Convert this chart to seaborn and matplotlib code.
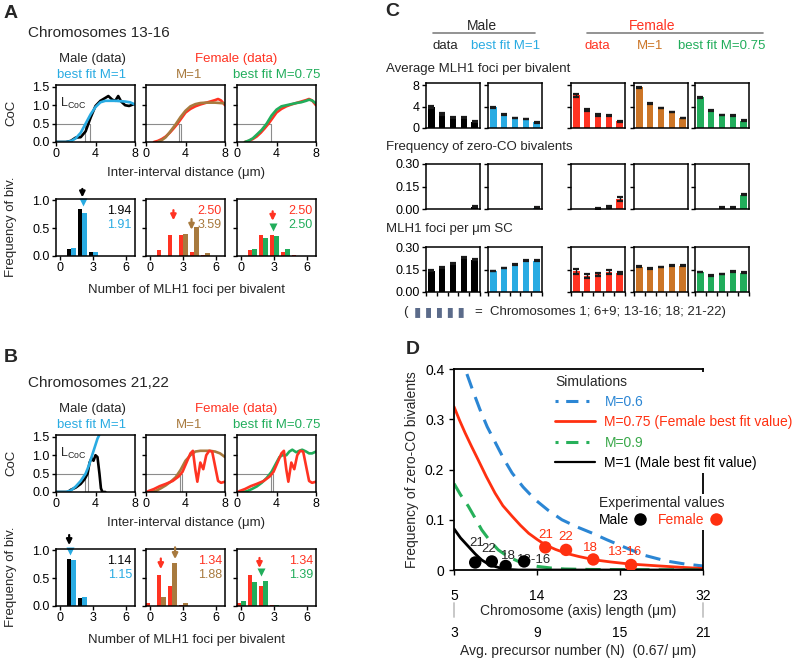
import numpy as np
import pandas as pd
import matplotlib
matplotlib.use("Agg")
import matplotlib.pyplot as plt
from matplotlib.lines import Line2D
import seaborn as sns

# ============================================================
# DATA
# ============================================================

# --- CoC curves, chromosomes 13-16 (x = inter-interval distance, um) ---
a_male_x = [0, 1.0, 1.5, 2.0, 2.5, 3.0, 3.5, 4.0, 4.5, 5.0, 5.3, 5.7, 6.0, 6.3, 6.6, 7.0, 7.4, 7.8, 8.0]
a_male_y = [0, 0, 0.03, 0.12, 0.13, 0.29, 0.66, 0.98, 1.12, 1.2, 1.25, 1.15, 1.12, 1.25, 1.1, 1.0, 0.98, 1.02, 1.03]
a_male_fit_x = [0, 1.0, 1.5, 2.0, 2.5, 3.0, 3.5, 4.0, 4.5, 5.0, 6.0, 7.0, 7.5, 8.0]
a_male_fit_y = [0, 0, 0.02, 0.1, 0.25, 0.5, 0.75, 0.95, 1.08, 1.12, 1.12, 1.1, 1.08, 1.02]
a_fem_x = [0.8, 1.2, 1.6, 2.0, 2.4, 2.8, 3.2, 3.6, 4.0, 4.5, 5.0, 5.5, 6.0, 6.5, 7.0, 7.3, 7.6, 8.0]
a_fem_y = [0, 0.03, 0.08, 0.15, 0.25, 0.37, 0.5, 0.65, 0.8, 0.9, 0.97, 1.02, 1.06, 1.1, 1.14, 1.17, 1.13, 1.0]
a_fem_m1_x = [1.2, 1.6, 2.0, 2.5, 3.0, 3.5, 4.0, 4.5, 5.0, 5.5, 6.0, 6.5, 7.0, 7.5, 8.0]
a_fem_m1_y = [0, 0.05, 0.13, 0.3, 0.48, 0.68, 0.85, 0.97, 1.03, 1.06, 1.07, 1.07, 1.07, 1.06, 1.05]
a_fem_fit_x = [0.8, 1.2, 1.6, 2.0, 2.5, 3.0, 3.5, 4.0, 4.5, 5.0, 5.5, 6.0, 6.5, 7.0, 7.3, 7.6, 8.0]
a_fem_fit_y = [0, 0.04, 0.1, 0.2, 0.33, 0.5, 0.72, 0.88, 0.97, 1.0, 1.03, 1.06, 1.08, 1.12, 1.15, 1.13, 1.05]
a_lcoc = [[2.95, 3.45], [3.35, 3.55], [3.45]]

# --- CoC curves, chromosomes 21,22 ---
b_male_x = [0, 1.2, 1.5, 2.0, 2.5, 2.9, 3.2, 3.4, 3.6, 3.8, 4.0, 4.2, 4.4, 4.55, 4.7, 5.0]
b_male_y = [0, 0, 0.06, 0.12, 0.22, 0.35, 0.5, 0.8, 0.92, 0.85, 1.0, 0.95, 0.5, 0.1, 0, 0]
b_male_fit_x = [0, 1.0, 1.5, 2.0, 2.5, 3.0, 3.3, 3.6, 3.9, 4.2, 4.4]
b_male_fit_y = [0, 0, 0.04, 0.15, 0.3, 0.5, 0.7, 0.95, 1.2, 1.45, 1.56]
b_fem_x = [0.2, 0.8, 1.4, 2.0, 2.7, 3.3, 3.7, 4.1, 4.5, 4.75, 5.0, 5.2, 5.5, 5.8, 6.1, 6.4, 6.7, 7.0, 7.3, 7.6, 8.0]
b_fem_y = [0.02, 0.08, 0.16, 0.22, 0.3, 0.42, 0.55, 0.8, 1.05, 1.12, 0.6, 0.28, 0.8, 0.62, 1.0, 1.12, 1.1, 0.7, 0.3, 0.25, 0.28]
b_fem_m1_x = [0.5, 1.0, 1.5, 2.0, 2.5, 3.0, 3.5, 4.0, 4.5, 5.0, 5.5, 6.0, 6.5, 7.0, 7.5, 8.0]
b_fem_m1_y = [0, 0.03, 0.1, 0.18, 0.28, 0.4, 0.6, 0.85, 1.0, 1.1, 1.12, 1.12, 1.12, 1.1, 1.05, 0.95]
b_fem_fit_x = [0.5, 1.0, 1.5, 2.0, 2.5, 3.0, 3.5, 4.0, 4.3, 4.6, 5.0, 5.3, 5.6, 6.0, 6.3, 6.6, 7.0, 7.3, 7.6, 8.0]
b_fem_fit_y = [0, 0.02, 0.08, 0.15, 0.25, 0.38, 0.55, 0.8, 0.95, 1.0, 1.0, 1.1, 1.15, 1.08, 1.12, 1.15, 1.1, 1.05, 1.05, 1.1]
b_lcoc = [[2.95, 3.25], [3.45, 3.65], [3.45, 3.6]]

# --- distributions of MLH1 foci per bivalent ---
foci_n = [0, 1, 2, 3, 4, 5, 6]
a_hist_male = [0, 0.12, 0.84, 0.07, 0, 0, 0]
a_hist_male_fit = [0, 0.14, 0.77, 0.065, 0, 0, 0]
a_hist_fem = [0, 0.11, 0.37, 0.37, 0.08, 0.01, 0]
a_hist_fem_m1 = [0, 0, 0, 0.39, 0.51, 0.05, 0]
a_hist_fem_fit = [0, 0.13, 0.33, 0.36, 0.13, 0, 0]
b_hist_male = [0, 0.84, 0.15, 0, 0, 0, 0]
b_hist_male_fit = [0, 0.83, 0.16, 0, 0, 0, 0]
b_hist_fem = [0.06, 0.56, 0.35, 0.01, 0, 0, 0]
b_hist_fem_m1 = [0, 0.16, 0.77, 0.05, 0, 0, 0]
b_hist_fem_fit = [0.09, 0.43, 0.45, 0.01, 0, 0, 0]

# mean values printed in each histogram, and where the mean marks sit
a_means = [("1.94", "1.91"), ("2.50", "3.59"), ("2.50", "2.50")]
b_means = [("1.14", "1.15"), ("1.34", "1.88"), ("1.34", "1.39")]
# (x, y start, y end, kind)
a_marks = [[(2.0, 1.2, 1.05, "arrow"), (2.1, 0.97, 0, "tri")],
           [(2.1, 0.82, 0.64, "arrow"), (3.75, 0.66, 0.47, "arrow")],
           [(2.85, 0.8, 0.63, "arrow"), (2.85, 0.52, 0, "tri")]]
b_marks = [[(0.8, 1.27, 1.09, "arrow"), (0.85, 0.98, 0, "tri")],
           [(0.95, 0.85, 0.66, "arrow"), (2.25, 1.05, 0.84, "arrow")],
           [(1.65, 0.86, 0.68, "arrow"), (1.75, 0.6, 0, "tri")]]

# --- panel C: per-chromosome summaries (1; 6+9; 13-16; 18; 21-22) ---
chromosomes = ["1", "6+9", "13-16", "18", "21-22"]
avg_foci = {
    "male": [3.9, 2.6, 2.0, 1.9, 1.2],
    "male_fit": [3.85, 2.55, 1.9, 1.7, 1.05],
    "fem": [6.1, 3.3, 2.45, 2.3, 1.3],
    "fem_m1": [7.6, 4.6, 3.7, 2.95, 1.9],
    "fem_fit": [5.75, 3.3, 2.45, 2.3, 1.4],
}
avg_foci_err = {
    "male": [0.2, 0.15, 0.1, 0.1, 0.08],
    "male_fit": [0.08, 0.06, 0.05, 0.05, 0.04],
    "fem": [0.25, 0.2, 0.12, 0.12, 0.1],
    "fem_m1": [0.08, 0.06, 0.05, 0.05, 0.04],
    "fem_fit": [0.08, 0.06, 0.05, 0.05, 0.04],
}
zero_co = {
    "male": [0, 0, 0, 0, 0.015],
    "male_fit": [0, 0, 0, 0, 0.01],
    "fem": [0, 0, 0.004, 0.012, 0.065],
    "fem_m1": [0, 0, 0, 0, 0],
    "fem_fit": [0, 0, 0.012, 0.012, 0.095],
}
zero_co_err = {
    "male": [0, 0, 0, 0, 0.002],
    "male_fit": [0, 0, 0, 0, 0.002],
    "fem": [0, 0, 0.002, 0.008, 0.014],
    "fem_m1": [0, 0, 0, 0, 0],
    "fem_fit": [0, 0, 0.002, 0.002, 0.003],
}
foci_per_um = {
    "male": [0.142, 0.165, 0.19, 0.228, 0.215],
    "male_fit": [0.14, 0.16, 0.185, 0.21, 0.21],
    "fem": [0.138, 0.108, 0.118, 0.135, 0.125],
    "fem_m1": [0.17, 0.155, 0.168, 0.175, 0.175],
    "fem_fit": [0.133, 0.11, 0.12, 0.138, 0.13],
}
foci_per_um_err = {
    "male": [0.003, 0.003, 0.003, 0.003, 0.003],
    "male_fit": [0.002, 0.002, 0.002, 0.002, 0.002],
    "fem": [0.015, 0.012, 0.008, 0.012, 0.008],
    "fem_m1": [0.002, 0.002, 0.002, 0.002, 0.002],
    "fem_fit": [0.002, 0.002, 0.002, 0.002, 0.002],
}

# --- panel D: zero-CO frequency vs chromosome length ---
sim_06_L = [6.4, 7.1, 7.8, 8.6, 9.5, 10.4, 11.3, 12.5, 13.8, 15.2, 16.7, 18.3, 19.9, 21.6, 23.4, 25.5, 28, 30, 32]
sim_06_f = [0.39, 0.354, 0.32, 0.285, 0.253, 0.221, 0.193, 0.165, 0.14, 0.119, 0.10, 0.086, 0.074,
            0.06, 0.046, 0.03, 0.018, 0.012, 0.008]
sim_075_L = [5, 5.6, 6.2, 6.9, 7.6, 8.5, 9.45, 10.3, 11.3, 12.2, 13.1, 14.0, 14.9, 16.0, 17.2, 18.5,
             20.3, 22, 24, 27.3, 30, 32]
sim_075_f = [0.325, 0.298, 0.273, 0.246, 0.22, 0.186, 0.153, 0.128, 0.107, 0.089, 0.073, 0.061,
             0.05, 0.041, 0.033, 0.027, 0.02, 0.016, 0.012, 0.008, 0.005, 0.003]
sim_09_L = [5, 5.7, 6.55, 7.3, 8.0, 8.9, 9.8, 10.9, 12, 13, 14.1, 15.5, 17, 20, 32]
sim_09_f = [0.172, 0.15, 0.127, 0.103, 0.08, 0.058, 0.04, 0.026, 0.017, 0.011, 0.007, 0.004, 0.002, 0.001, 0]
sim_1_L = [5, 5.7, 6.55, 7.3, 8.0, 8.7, 9.45, 10.2, 11, 12, 14, 32]
sim_1_f = [0.082, 0.064, 0.047, 0.032, 0.02, 0.012, 0.007, 0.003, 0.001, 0, 0, 0]

exp_labels = ["21", "22", "18", "13-16"]
exp_male_L = [7.3, 9.1, 10.6, 12.6]
exp_male_f = [0.015, 0.017, 0.008, 0.017]
exp_fem_L = [14.9, 17.15, 20.1, 24.2]
exp_fem_f = [0.045, 0.04, 0.021, 0.01]

# ============================================================
# STYLE
# ============================================================
sns.set_style("ticks")
plt.rcParams["font.family"] = ["Liberation Sans", "DejaVu Sans"]
plt.rcParams["axes.edgecolor"] = "black"
plt.rcParams["axes.linewidth"] = 1.1
plt.rcParams["xtick.color"] = "black"
plt.rcParams["ytick.color"] = "black"

BLACK = "black"
BLUE = "#29abe2"
RED = "#ff3322"
BROWN = "#a87a3e"
ORANGE = "#cc7526"
GREEN = "#21ad5b"
D_BLUE = "#2b86d4"
D_RED = "#ff3010"
D_GREEN = "#27b05a"
GUIDE = "#8c8c8c"

W, H = 800, 663
fig = plt.figure(figsize=(W / 100, H / 100), dpi=100)
fig.patch.set_facecolor("white")


def px_axes(left, top, width, height):
    return fig.add_axes([left / W, 1 - (top + height) / H, width / W, height / H])


def px_text(x, y, s, **kw):
    kw.setdefault("va", "center")
    fig.text(x / W, 1 - y / H, s, **kw)


def small_style(ax, labels_left, size=8.5):
    for sp in ax.spines.values():
        sp.set_visible(True)
        sp.set_linewidth(1.1)
    ax.tick_params(direction="out", length=3, width=1, labelsize=size, pad=1.5)
    ax.tick_params(labelleft=labels_left)
    ax.set_xlabel("")
    ax.set_ylabel("")


def coc_panel(ax, curves, guides, first):
    ax.plot([0, max(guides)], [0.5, 0.5], color=GUIDE, lw=0.8, zorder=0)
    for g in guides:
        ax.plot([g, g], [0, 0.5], color=GUIDE, lw=0.8, zorder=0)
    for x, y, c in curves:
        sns.lineplot(x=x, y=y, color=c, linewidth=1.9, ax=ax)
    ax.set_xlim(0, 8)
    ax.set_ylim(0, 1.55)
    ax.set_xticks([0, 4, 8])
    ax.set_yticks([0, 0.5, 1.0, 1.5])
    ax.set_yticklabels(["0.0", "0.5", "1.0", "1.5"])
    small_style(ax, first, size=9)
    if first:
        ax.text(0.45, 0.95, r"L$_{\mathregular{CoC}}$", fontsize=9)


def hist_panel(ax, first_vals, second_vals, colors, means, marks, first):
    df = pd.DataFrame({"n": foci_n * 2, "freq": first_vals + second_vals,
                       "series": ["obs"] * len(foci_n) + ["sim"] * len(foci_n)})
    sns.barplot(data=df, x="n", y="freq", hue="series", palette=colors, native_scale=True,
                width=0.8, saturation=1, linewidth=0, errorbar=None, legend=False, ax=ax)
    ax.set_xlim(-0.4, 6.8)
    ax.set_ylim(0, 1.02)
    ax.set_xticks([0, 3, 6])
    ax.set_yticks([0, 0.5, 1.0])
    ax.set_yticklabels(["0.0", "0.5", "1.0"])
    small_style(ax, first, size=9)
    ax.text(0.96, 0.79, means[0], color=colors[0], fontsize=9, ha="right", va="center",
            transform=ax.transAxes)
    ax.text(0.96, 0.54, means[1], color=colors[1], fontsize=9, ha="right", va="center",
            transform=ax.transAxes)
    for (x, y0, y1, kind), c in zip(marks, colors):
        if kind == "arrow":
            ax.annotate("", xy=(x, y1), xytext=(x, y0), annotation_clip=False,
                        arrowprops=dict(arrowstyle="-|>", color=c, lw=1.6, mutation_scale=8,
                                        shrinkA=0, shrinkB=0))
        else:
            ax.plot([x], [y0], marker="v", color=c, ms=6, clip_on=False, mec="none")


cols = [56, 146, 237]
col_w = 79


def chrom_block(title, y0, coc_sets, guides, hists, means, marks):
    # column headings
    px_text(28, y0, title, fontsize=11)
    px_text(92, y0 + 26, "Male (data)", ha="center", fontsize=9.5)
    px_text(92, y0 + 42, "best fit M=1", ha="center", fontsize=9.5, color=BLUE)
    px_text(236, y0 + 26, "Female (data)", ha="center", fontsize=9.5, color=RED)
    px_text(189, y0 + 42, "M=1", ha="center", fontsize=9.5, color=BROWN)
    px_text(277, y0 + 42, "best fit M=0.75", ha="center", fontsize=9.5, color=GREEN)
    top_coc = y0 + 52
    top_hist = y0 + 166
    for i, left in enumerate(cols):
        ax = px_axes(left, top_coc, col_w, 57)
        coc_panel(ax, coc_sets[i], guides[i], i == 0)
        ax2 = px_axes(left, top_hist, col_w, 57)
        hist_panel(ax2, hists[i][0], hists[i][1], hists[i][2], means[i], marks[i], i == 0)
    px_text(11, top_coc + 28, "CoC", rotation=90, ha="center", fontsize=9.5)
    px_text(186, top_coc + 88, "Inter-interval distance (\u03bcm)", ha="center", fontsize=9.5)
    px_text(11, top_hist + 28, "Frequency of biv.", rotation=90, ha="center", fontsize=9.5)
    px_text(186, top_hist + 91, "Number of MLH1 foci per bivalent", ha="center", fontsize=9.5)


# ============================================================
# PANELS A and B
# ============================================================
px_text(4, 14, "A", fontsize=14, fontweight="bold")
chrom_block("Chromosomes 13-16", 33,
            [[(a_male_x, a_male_y, BLACK), (a_male_fit_x, a_male_fit_y, BLUE)],
             [(a_fem_x, a_fem_y, RED), (a_fem_m1_x, a_fem_m1_y, BROWN)],
             [(a_fem_x, a_fem_y, RED), (a_fem_fit_x, a_fem_fit_y, GREEN)]],
            a_lcoc,
            [(a_hist_male, a_hist_male_fit, [BLACK, BLUE]),
             (a_hist_fem, a_hist_fem_m1, [RED, BROWN]),
             (a_hist_fem, a_hist_fem_fit, [RED, GREEN])],
            a_means, a_marks)

px_text(4, 357, "B", fontsize=14, fontweight="bold")
chrom_block("Chromosomes 21,22", 383,
            [[(b_male_x, b_male_y, BLACK), (b_male_fit_x, b_male_fit_y, BLUE)],
             [(b_fem_m1_x, b_fem_m1_y, BROWN), (b_fem_x, b_fem_y, RED)],
             [(b_fem_fit_x, b_fem_fit_y, GREEN), (b_fem_x, b_fem_y, RED)]],
            b_lcoc,
            [(b_hist_male, b_hist_male_fit, [BLACK, BLUE]),
             (b_hist_fem, b_hist_fem_m1, [RED, BROWN]),
             (b_hist_fem, b_hist_fem_fit, [RED, GREEN])],
            b_means, b_marks)

# ============================================================
# PANEL C
# ============================================================
px_text(385, 12, "C", fontsize=14, fontweight="bold")
px_text(482, 26, "Male", ha="center", fontsize=10)
px_text(652, 26, "Female", ha="center", fontsize=10, color=RED)
fig.add_artist(Line2D([433 / W, 535 / W], [1 - 33 / H] * 2, color="gray", lw=1.2))
fig.add_artist(Line2D([587 / W, 763 / W], [1 - 33 / H] * 2, color="gray", lw=1.2))
px_text(445, 46, "data", ha="center", fontsize=9.5)
px_text(506, 46, "best fit M=1", ha="center", fontsize=9.5, color=BLUE)
px_text(597, 46, "data", ha="center", fontsize=9.5, color=RED)
px_text(650, 46, "M=1", ha="center", fontsize=9.5, color=ORANGE)
px_text(722, 46, "best fit M=0.75", ha="center", fontsize=9.5, color=GREEN)

c_series = [("male", BLACK), ("male_fit", BLUE), ("fem", RED), ("fem_m1", ORANGE), ("fem_fit", GREEN)]
c_lefts = [426, 488, 571, 634, 695]
c_rows = [
    ("Average MLH1 foci per bivalent", 69, 83, avg_foci, avg_foci_err, (0, 8.4), [0, 4, 8], ["0", "4", "8"]),
    ("Frequency of zero-CO bivalents", 147, 164, zero_co, zero_co_err, (0, 0.3), [0, 0.15, 0.3],
     ["0.00", "0.15", "0.30"]),
    ("MLH1 foci per \u03bcm SC", 229, 247, foci_per_um, foci_per_um_err, (0, 0.3), [0, 0.15, 0.3],
     ["0.00", "0.15", "0.30"]),
]
for r, (label, ly, top, vals, errs, ylim, yt, ytl) in enumerate(c_rows):
    px_text(386, ly, label, fontsize=9.5)
    for i, (key, color) in enumerate(c_series):
        ax = px_axes(c_lefts[i], top, 54, 45)
        sns.barplot(x=chromosomes, y=vals[key], color=color, width=0.6, saturation=1,
                    linewidth=0, errorbar=None, ax=ax)
        v = np.array(vals[key])
        shown = v > 0
        ax.errorbar(np.arange(len(chromosomes))[shown], v[shown], yerr=np.array(errs[key])[shown],
                    fmt="none", ecolor="#1a1a1a", elinewidth=1, capsize=2.5, capthick=1.6)
        ax.set_xlim(-0.5, 4.5)
        ax.set_ylim(*ylim)
        ax.set_yticks(yt)
        ax.set_yticklabels(ytl)
        if r == 2:
            ax.set_xticks(np.arange(6) - 0.5)
            ax.set_xticklabels([])
        else:
            ax.set_xticks([])
        small_style(ax, i == 0, size=9)

px_text(403, 312, "(", fontsize=9.5)
px_text(414, 312, "\u25ae \u25ae \u25ae \u25ae \u25ae", fontsize=9.5, color="#5b6b8a")
px_text(475, 312, "=  Chromosomes 1; 6+9; 13-16; 18; 21-22)", fontsize=9.5)

# ============================================================
# PANEL D
# ============================================================
px_text(406, 350, "D", fontsize=14, fontweight="bold")
axd = px_axes(454, 369, 249, 201)
sns.lineplot(x=sim_06_L, y=sim_06_f, color=D_BLUE, linewidth=2.2, linestyle=(0, (5, 3)), ax=axd)
sns.lineplot(x=sim_075_L, y=sim_075_f, color=D_RED, linewidth=2.0, ax=axd)
sns.lineplot(x=sim_09_L, y=sim_09_f, color=D_GREEN, linewidth=2.2, linestyle=(0, (5, 3)), ax=axd)
sns.lineplot(x=sim_1_L, y=sim_1_f, color=BLACK, linewidth=2.0, ax=axd)
sns.scatterplot(x=exp_male_L, y=exp_male_f, color=BLACK, s=80, edgecolor="none", zorder=5, ax=axd)
sns.scatterplot(x=exp_fem_L, y=exp_fem_f, color=D_RED, s=80, edgecolor="none", zorder=5, ax=axd)

male_offsets = [(1, 14), (-2, 9), (2, 7), (7, 1)]
fem_offsets = [(0, 9), (0, 9.5), (-2, 8), (-4, 9.5)]
for lab, x, y, off in zip(exp_labels, exp_male_L, exp_male_f, male_offsets):
    axd.annotate(lab, (x, y), xytext=off, textcoords="offset points", ha="center", va="center",
                 fontsize=9.5)
for lab, x, y, off in zip(exp_labels, exp_fem_L, exp_fem_f, fem_offsets):
    axd.annotate(lab, (x, y), xytext=off, textcoords="offset points", ha="center", va="center",
                 fontsize=9.5, color=D_RED)

axd.set_xlim(5, 32)
axd.set_ylim(0, 0.4)
axd.set_xticks([5, 14, 23, 32])
axd.set_yticks([0, 0.1, 0.2, 0.3, 0.4])
axd.set_yticklabels(["0", "0.1", "0.2", "0.3", "0.4"])
for sp in axd.spines.values():
    sp.set_visible(True)
    sp.set_linewidth(1.3)
axd.tick_params(direction="out", length=3.5, width=1, labelsize=10)
axd.tick_params(axis="x", pad=10)
axd.set_xlabel("Chromosome (axis) length (\u03bcm)", fontsize=10, labelpad=1)
axd.set_ylabel("Frequency of zero-CO bivalents", fontsize=10, labelpad=4)

# light marks joining the two scales at both ends
for L in axd.get_xlim():
    axd.plot([L, L], [-0.165, -0.235], transform=axd.get_xaxis_transform(), clip_on=False,
             color="#c4c4c4", lw=1.3)

secax = axd.secondary_xaxis(-0.235, functions=(lambda L: 3 + (L - 5) * 2 / 3,
                                                lambda N: 5 + (N - 3) * 1.5))
secax.set_xticks([3, 9, 15, 21])
secax.spines["bottom"].set_visible(False)
secax.tick_params(which="both", length=0, labelsize=10, pad=6)
secax.set_xlabel("Avg. precursor number (N)  (0.67/ \u03bcm)", fontsize=10, labelpad=3)

sim_handles = [
    Line2D([], [], color=D_BLUE, lw=2.2, linestyle=(0, (1, 2.5, 4, 2.6))),
    Line2D([], [], color=D_RED, lw=2.0),
    Line2D([], [], color=D_GREEN, lw=2.2, linestyle=(0, (1, 2.5, 4, 2.6))),
    Line2D([], [], color=BLACK, lw=1.6),
]
sim_labels = ["M=0.6", "M=0.75 (Female best fit value)", "M=0.9", "M=1 (Male best fit value)"]
leg1 = axd.legend(sim_handles, sim_labels, title="Simulations", loc="upper left",
                  bbox_to_anchor=(0.395, 0.985), frameon=True, facecolor="white", edgecolor="none",
                  framealpha=1, fontsize=10, title_fontsize=10, handlelength=2.9,
                  handletextpad=0.65, labelspacing=0.45, borderpad=0.2, borderaxespad=0,
                  labelcolor=[D_BLUE, D_RED, "#3aa84a", BLACK], alignment="left")
axd.add_artist(leg1)

exp_handles = [
    Line2D([], [], color=BLACK, marker="o", ms=9, lw=0, mec="none"),
    Line2D([], [], color=D_RED, marker="o", ms=9, lw=0, mec="none"),
]
axd.legend(exp_handles, ["Male", "Female"], title="Experimental values", loc="upper left",
           bbox_to_anchor=(0.57, 0.38), ncol=2, markerfirst=False, frameon=True,
           facecolor="white", edgecolor="none", framealpha=1, fontsize=10, title_fontsize=10,
           handlelength=0.8, handletextpad=0.4, columnspacing=0.9, borderpad=0.2,
           borderaxespad=0, labelspacing=0.2, labelcolor=[BLACK, D_RED], alignment="left")

fig.savefig("out.png", dpi=100, facecolor="white")
